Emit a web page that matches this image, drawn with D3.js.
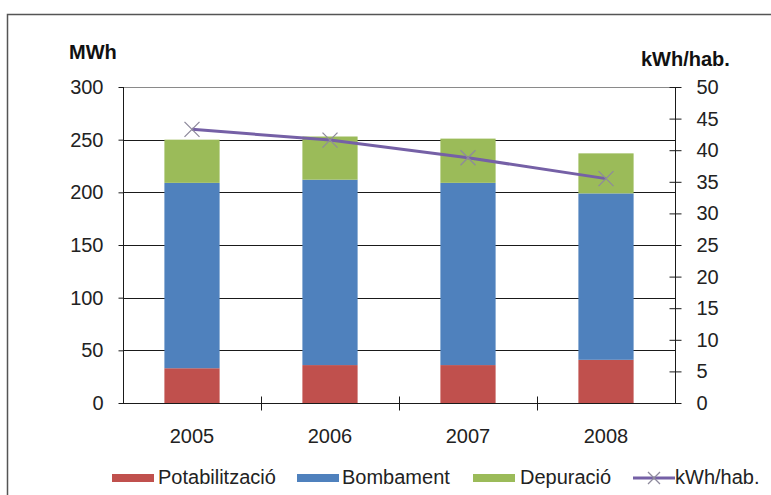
<!DOCTYPE html>
<html>
<head>
<meta charset="utf-8">
<script src="https://cdn.jsdelivr.net/npm/d3@7"></script>
<style>
  html, body { margin: 0; padding: 0; background: #fff; }
  svg { display: block; font-family: "Liberation Sans", Arial, sans-serif; }
</style>
</head>
<body>
<svg id="chart" width="771" height="495"></svg>
<script>
// Energy consumption by process (MWh) and per-inhabitant ratio (kWh/hab.)
const years = ["2005", "2006", "2007", "2008"];
const potabilitzacio = [33, 36, 36, 41];
const bombament = [176, 176, 173, 158];
const depuracio = [41, 41, 42, 38];
const kwhPerHab = [43.3, 41.6, 38.8, 35.5];

const leftTicks = [0, 50, 100, 150, 200, 250, 300];
const rightTicks = [0, 5, 10, 15, 20, 25, 30, 35, 40, 45, 50];

const seriesNames = ["Potabilització", "Bombament", "Depuració"];
const seriesColors = ["#c0504d", "#4f81bd", "#9bbb59"];
const lineName = "kWh/hab.";
const lineColor = "#7560a6";
const markerColor = "#8e8a9c";

const svg = d3.select("#chart");
const plot = { left: 123, right: 675, top: 87, bottom: 403 };

// outer frame (extends past the visible window on the right and bottom)
svg.append("rect")
  .attr("x", 7.5).attr("y", 14.5)
  .attr("width", 820).attr("height", 600)
  .attr("fill", "none").attr("stroke", "#555").attr("stroke-width", 1.5);

const x = d3.scaleBand().domain(years)
  .range([plot.left, plot.right])
  .paddingInner(0.6).paddingOuter(0.3);
const yL = d3.scaleLinear().domain([0, 300]).range([plot.bottom, plot.top]);
const yR = d3.scaleLinear().domain([0, 50]).range([plot.bottom, plot.top]);

// gridlines
svg.append("g").selectAll("line")
  .data(leftTicks.filter(d => d > 0))
  .join("line")
  .attr("x1", plot.left).attr("x2", plot.right)
  .attr("y1", d => Math.round(yL(d)) + 0.5).attr("y2", d => Math.round(yL(d)) + 0.5)
  .attr("stroke", d => d === 300 ? "#8a8a8a" : "#1a1a1a")
  .attr("stroke-width", 1);

// stacked bars
const rows = years.map((yr, i) => ({
  year: yr,
  "Potabilització": potabilitzacio[i],
  "Bombament": bombament[i],
  "Depuració": depuracio[i]
}));
const stack = d3.stack().keys(seriesNames)(rows);
svg.append("g").selectAll("g")
  .data(stack)
  .join("g")
  .attr("fill", (d, i) => seriesColors[i])
  .selectAll("rect")
  .data(d => d)
  .join("rect")
  .attr("x", d => x(d.data.year))
  .attr("width", x.bandwidth())
  .attr("y", d => yL(d[1]))
  .attr("height", d => yL(d[0]) - yL(d[1]));

// left axis
const axisL = d3.axisLeft(yL).tickValues(leftTicks).tickSize(5).tickPadding(15);
const gL = svg.append("g").attr("transform", `translate(${plot.left + 0.5},0)`).call(axisL);

// right axis (ticks cross the axis line)
const axisR = d3.axisRight(yR).tickValues(rightTicks).tickSize(6).tickPadding(15);
const gR = svg.append("g").attr("transform", `translate(${plot.right + 0.5},0)`).call(axisR);
gR.selectAll(".tick line").attr("x1", -6);

// bottom axis with ticks at category boundaries
const gB = svg.append("g").attr("transform", `translate(0,${plot.bottom + 0.5})`);
gB.append("line").attr("x1", plot.left).attr("x2", plot.right + 1)
  .attr("stroke", "#1a1a1a");
const step = x.step();
const boundaries = d3.range(1, years.length).map(i => plot.left + i * step);
gB.selectAll("line.tick").data(boundaries).join("line")
  .attr("class", "tick")
  .attr("x1", d => Math.round(d) + 0.5).attr("x2", d => Math.round(d) + 0.5)
  .attr("y1", -7).attr("y2", 7).attr("stroke", "#1a1a1a");
gB.selectAll("text").data(years).join("text")
  .attr("x", d => x(d) + x.bandwidth() / 2)
  .attr("y", 39)
  .attr("text-anchor", "middle")
  .attr("font-size", 20).attr("fill", "#222")
  .text(d => d);

[gL, gR].forEach(g => {
  g.select(".domain").attr("stroke", "#1a1a1a").attr("d",
    g === gL ? `M0,${plot.top}V${plot.bottom}` : `M0,${plot.top}V${plot.bottom}`);
  g.selectAll(".tick line").attr("stroke", "#1a1a1a");
  g.selectAll(".tick text").attr("font-size", 20).attr("fill", "#222")
    .attr("font-family", "Liberation Sans, Arial, sans-serif");
});

// axis titles
svg.append("text").attr("x", 69).attr("y", 59)
  .attr("font-size", 20).attr("font-weight", "bold").attr("fill", "#111")
  .text("MWh");
svg.append("text").attr("x", 641).attr("y", 66)
  .attr("font-size", 20).attr("font-weight", "bold").attr("fill", "#111")
  .text("kWh/hab.");

// per-inhabitant line
const lineGen = d3.line()
  .x((d, i) => x(years[i]) + x.bandwidth() / 2)
  .y(d => yR(d));
svg.append("path").datum(kwhPerHab)
  .attr("d", lineGen)
  .attr("fill", "none").attr("stroke", lineColor).attr("stroke-width", 3);

const xMark = (cx, cy, r) => `M${cx - r},${cy - r}L${cx + r},${cy + r}M${cx - r},${cy + r}L${cx + r},${cy - r}`;
svg.append("g").selectAll("path")
  .data(kwhPerHab)
  .join("path")
  .attr("d", (d, i) => xMark(x(years[i]) + x.bandwidth() / 2, yR(d), 7.5))
  .attr("stroke", markerColor).attr("stroke-width", 1.3).attr("fill", "none");

// legend
const legendY = 478;
const legendItems = [
  { name: seriesNames[0], color: seriesColors[0], x: 112, tx: 158 },
  { name: seriesNames[1], color: seriesColors[1], x: 297, tx: 342 },
  { name: seriesNames[2], color: seriesColors[2], x: 473, tx: 520 }
];
const lg = svg.append("g");
legendItems.forEach(it => {
  lg.append("rect").attr("x", it.x).attr("y", legendY - 4)
    .attr("width", 42).attr("height", 8).attr("fill", it.color);
  lg.append("text").attr("x", it.tx).attr("y", legendY + 6)
    .attr("font-size", 20).attr("fill", "#222").text(it.name);
});
lg.append("line").attr("x1", 633).attr("x2", 675)
  .attr("y1", legendY).attr("y2", legendY)
  .attr("stroke", lineColor).attr("stroke-width", 3);
lg.append("path").attr("d", xMark(654, legendY, 6))
  .attr("stroke", markerColor).attr("stroke-width", 1.3).attr("fill", "none");
lg.append("text").attr("x", 675).attr("y", legendY + 6)
  .attr("font-size", 20).attr("fill", "#222").text(lineName);
</script>
</body>
</html>
